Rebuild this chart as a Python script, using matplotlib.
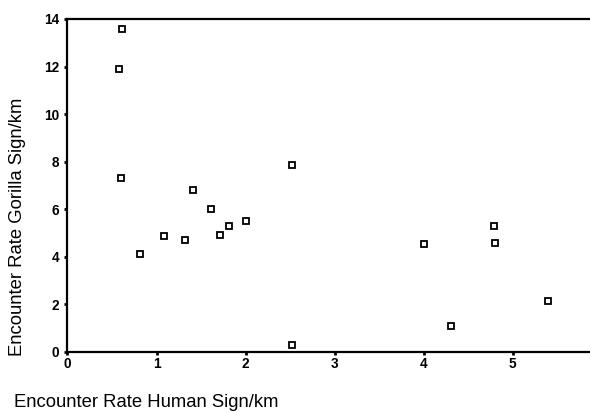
import matplotlib
matplotlib.use("Agg")
import matplotlib.pyplot as plt

# encounter rates
human_rate = [0.61, 0.58, 0.60, 1.41, 2.52, 0.81, 1.08, 1.32, 1.61,
              1.71, 1.81, 2.01, 2.52, 4.79, 4.01, 4.80, 5.40, 4.31]
gorilla_rate = [13.57, 11.88, 7.31, 6.81, 7.86, 4.12, 4.89, 4.69, 6.02,
                4.92, 5.31, 5.52, 0.31, 5.29, 4.55, 4.57, 2.13, 1.09]

x_ticks = [0, 1, 2, 3, 4, 5]
y_ticks = [0, 2, 4, 6, 8, 10, 12, 14]

plt.rcParams['font.family'] = ['Liberation Sans', 'DejaVu Sans']

fig = plt.figure(figsize=(5.9, 4.13), dpi=100)
ax = fig.add_axes([0.1144, 0.1477, 0.8856, 0.8063])

ax.plot(human_rate, gorilla_rate, linestyle='none', marker='s',
        markersize=4.0, markerfacecolor='white', markeredgecolor='black',
        markeredgewidth=1.3)

ax.set_xlim(0, 5.87)
ax.set_ylim(0, 14)
ax.set_xticks(x_ticks)
ax.set_yticks(y_ticks)
for lbl in ax.get_xticklabels() + ax.get_yticklabels():
    lbl.set_fontweight('bold')
ax.tick_params(axis='both', direction='out', length=2, width=2,
               labelsize=9.8)
ax.tick_params(axis='y', pad=4)
ax.tick_params(axis='x', pad=1.5)

for side in ['left', 'bottom', 'top']:
    ax.spines[side].set_linewidth(1.6)
ax.spines['right'].set_visible(False)

fig.text(14 / 590, 1 - 407 / 413, 'Encounter Rate Human Sign/km',
         fontsize=13.3, ha='left', va='baseline')
fig.text(18 / 590, 1 - 227 / 413, 'Encounter Rate Gorilla Sign/km',
         fontsize=13.3, rotation=90, ha='center', va='center')

fig.savefig('out.png', dpi=100)
